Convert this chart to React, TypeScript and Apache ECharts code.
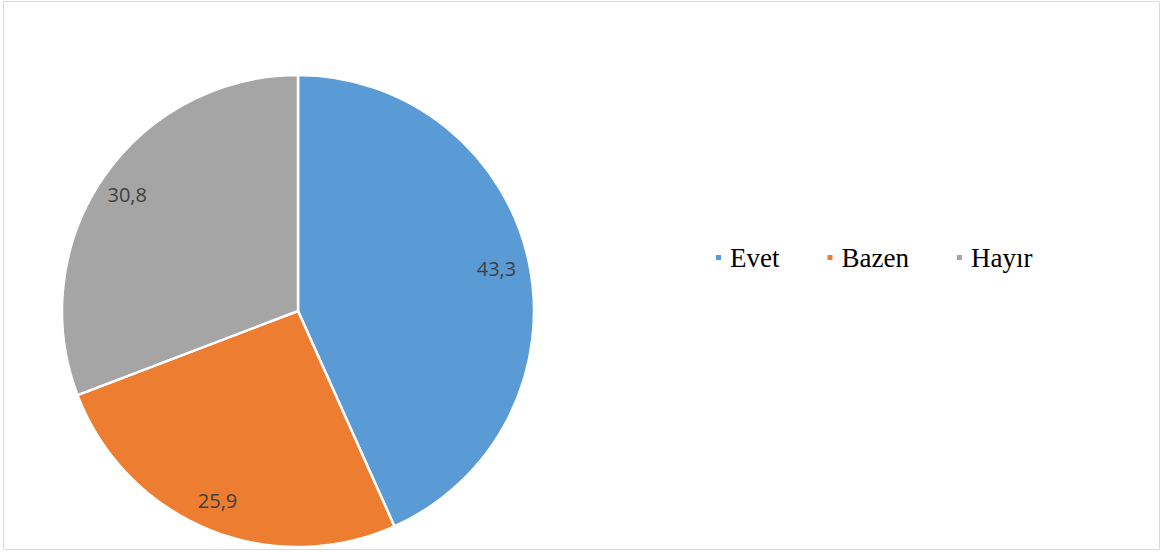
import React, { useEffect, useRef } from "react";
import * as echarts from "echarts";

const categories = ["Evet", "Bazen", "Hayır"];
const values = [43.3, 25.9, 30.8];
const colors = ["#5B9BD5", "#ED7D31", "#A5A5A5"];

export default function App() {
  const ref = useRef<HTMLDivElement>(null);
  useEffect(() => {
    if (!ref.current) return;
    const chart = echarts.init(ref.current, null, { renderer: "svg" });
    const data = categories.map((name, i) => ({
      name,
      value: values[i],
      itemStyle: { color: colors[i] },
    }));
    chart.setOption({
      animation: false,
      backgroundColor: "#ffffff",
      graphic: [
        {
          type: "rect",
          shape: { x: 3.5, y: 1.5, width: 1156, height: 548 },
          style: { fill: "none", stroke: "#D9D9D9", lineWidth: 1 },
          silent: true,
        },
      ],
      legend: {
        data: categories,
        left: 709,
        top: 239,
        orient: "horizontal",
        icon: "rect",
        itemWidth: 7,
        itemHeight: 7,
        itemGap: 46,
        textStyle: {
          fontFamily: "Liberation Serif",
          fontSize: 27,
          color: "#000000",
          padding: [0, 0, 0, 3],
        },
      },
      series: [
        {
          type: "pie",
          center: [298, 311],
          radius: 236,
          startAngle: 90,
          clockwise: true,
          data,
          label: { show: false },
          labelLine: { show: false },
          itemStyle: { borderColor: "#ffffff", borderWidth: 2.5 },
          emphasis: { disabled: true },
          silent: true,
        },
        {
          type: "pie",
          center: [296, 311],
          radius: [192, 212],
          startAngle: 90,
          clockwise: true,
          data: categories.map((name, i) => ({ name, value: values[i] })),
          itemStyle: { color: "transparent", borderWidth: 0 },
          label: {
            show: true,
            position: "inside",
            formatter: (p: any) => String(p.value).replace(".", ","),
            fontFamily: "Open Sans",
            fontSize: 20,
            color: "#404040",
          },
          labelLine: { show: false },
          emphasis: { disabled: true },
          silent: true,
          legendHoverLink: false,
        },
      ],
    });
    return () => chart.dispose();
  }, []);
  return (
    <div
      ref={ref}
      style={{ position: "fixed", left: 0, top: 0, width: 1162, height: 552 }}
    />
  );
}
